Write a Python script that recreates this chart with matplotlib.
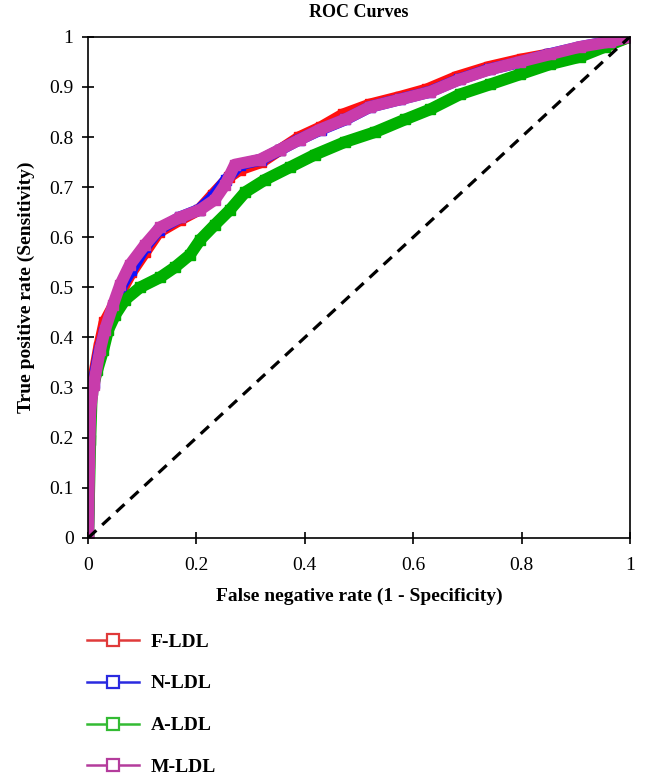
import matplotlib
matplotlib.use('Agg')
import matplotlib.pyplot as plt
from matplotlib.lines import Line2D

plt.rcParams['font.family'] = 'Liberation Serif'

# values
fpr_f = [0, 0.002, 0.004, 0.01, 0.02, 0.03, 0.045, 0.06, 0.08, 0.105, 0.13, 0.17, 0.205, 0.23, 0.26, 0.28, 0.32,
         0.355, 0.39, 0.43, 0.47, 0.52, 0.575, 0.625, 0.68, 0.74, 0.8, 0.85, 0.9, 0.96, 1.0]
tpr_f = [0, 0.2, 0.26, 0.32, 0.38, 0.43, 0.46, 0.49, 0.53, 0.57, 0.61, 0.635, 0.655, 0.685, 0.72, 0.735, 0.75,
         0.775, 0.8, 0.82, 0.845, 0.865, 0.88, 0.895, 0.92, 0.94, 0.955, 0.965, 0.97, 0.985, 1.0]

fpr_n = [0, 0.002, 0.003, 0.01, 0.02, 0.03, 0.045, 0.06, 0.08, 0.105, 0.13, 0.17, 0.205, 0.23, 0.255, 0.28, 0.32,
         0.355, 0.39, 0.43, 0.475, 0.52, 0.575, 0.63, 0.685, 0.74, 0.8, 0.85, 0.91, 0.96, 1.0]
tpr_n = [0, 0.2, 0.26, 0.31, 0.37, 0.41, 0.455, 0.5, 0.535, 0.58, 0.615, 0.64, 0.655, 0.68, 0.715, 0.745, 0.755,
         0.775, 0.795, 0.815, 0.835, 0.86, 0.875, 0.89, 0.915, 0.935, 0.95, 0.965, 0.98, 0.99, 1.0]

fpr_a = [0, 0.004, 0.007, 0.017, 0.028, 0.037, 0.05, 0.068, 0.096, 0.133, 0.16, 0.188, 0.207, 0.234, 0.262, 0.29,
         0.327, 0.373, 0.419, 0.474, 0.53, 0.585, 0.631, 0.686, 0.742, 0.797, 0.852, 0.908, 0.954, 1.0]
tpr_a = [0, 0.195, 0.295, 0.335, 0.375, 0.415, 0.445, 0.475, 0.5, 0.52, 0.54, 0.565, 0.595, 0.625, 0.655, 0.69,
         0.715, 0.74, 0.765, 0.79, 0.81, 0.835, 0.855, 0.885, 0.905, 0.925, 0.945, 0.96, 0.98, 1.0]

fpr_m = [0, 0.002, 0.004, 0.01, 0.022, 0.031, 0.046, 0.059, 0.077, 0.105, 0.133, 0.17, 0.207, 0.234, 0.253, 0.271,
         0.317, 0.354, 0.391, 0.428, 0.474, 0.52, 0.576, 0.631, 0.686, 0.742, 0.797, 0.852, 0.908, 0.963, 1.0]
tpr_m = [0, 0.15, 0.255, 0.305, 0.375, 0.415, 0.465, 0.505, 0.545, 0.585, 0.62, 0.64, 0.655, 0.675, 0.705, 0.745,
         0.755, 0.775, 0.795, 0.815, 0.835, 0.86, 0.875, 0.89, 0.915, 0.935, 0.95, 0.965, 0.98, 0.99, 1.0]

names = ['F-LDL', 'N-LDL', 'A-LDL', 'M-LDL']
colors = ['#ff1010', '#1010ff', '#00b000', '#c83cab']
legend_colors = ['#e03a3a', '#2a2ae0', '#33bb33', '#b43c9c']
series = [(fpr_f, tpr_f), (fpr_n, tpr_n), (fpr_a, tpr_a), (fpr_m, tpr_m)]

fig = plt.figure(figsize=(6.48, 7.83), dpi=100)
ax = fig.add_axes([0.136, 0.313, 0.836, 0.64])

for (x, y), c in zip(series, colors):
    ax.plot(x, y, color=c, lw=8.5, solid_joinstyle='round', solid_capstyle='butt')
    ax.plot(x, y, ls='none', marker='s', ms=7, mfc=c, mec=c)

ax.plot([0, 1], [0, 1], color='black', lw=2.3, ls=(0, (3.5, 2.5)))

ax.set_xlim(0, 1)
ax.set_ylim(0, 1)
ax.set_xticks([0, 0.2, 0.4, 0.6, 0.8, 1])
ax.set_xticklabels(['0', '0.2', '0.4', '0.6', '0.8', '1'])
ax.set_yticks([i / 10 for i in range(11)])
ax.set_yticklabels(['0'] + ['%.1f' % (i / 10) for i in range(1, 10)] + ['1'])
ax.tick_params(direction='inout', length=9, width=1.2, labelsize=14, pad=6,
               top=False, right=False)
ax.tick_params(axis='x', pad=9)
for s in ax.spines.values():
    s.set_linewidth(1.2)

ax.set_title('ROC Curves', fontsize=13, fontweight='bold', pad=14)
ax.set_xlabel('False negative rate (1 - Specificity)', fontsize=14, fontweight='bold', labelpad=10)
ax.set_ylabel('True positive rate (Sensitivity)', fontsize=14, fontweight='bold', labelpad=10)

handles = [Line2D([0], [0], color=c, lw=1.8, marker='s', ms=8, mfc='white', mec=c, mew=1.6)
           for c in legend_colors]
fig.legend(handles, names, loc='upper left', bbox_to_anchor=(0.107, 0.214), frameon=False,
           prop={'weight': 'bold', 'size': 14}, handlelength=2.7, handletextpad=0.6,
           labelspacing=1.25)

fig.savefig('out.png', dpi=100)
